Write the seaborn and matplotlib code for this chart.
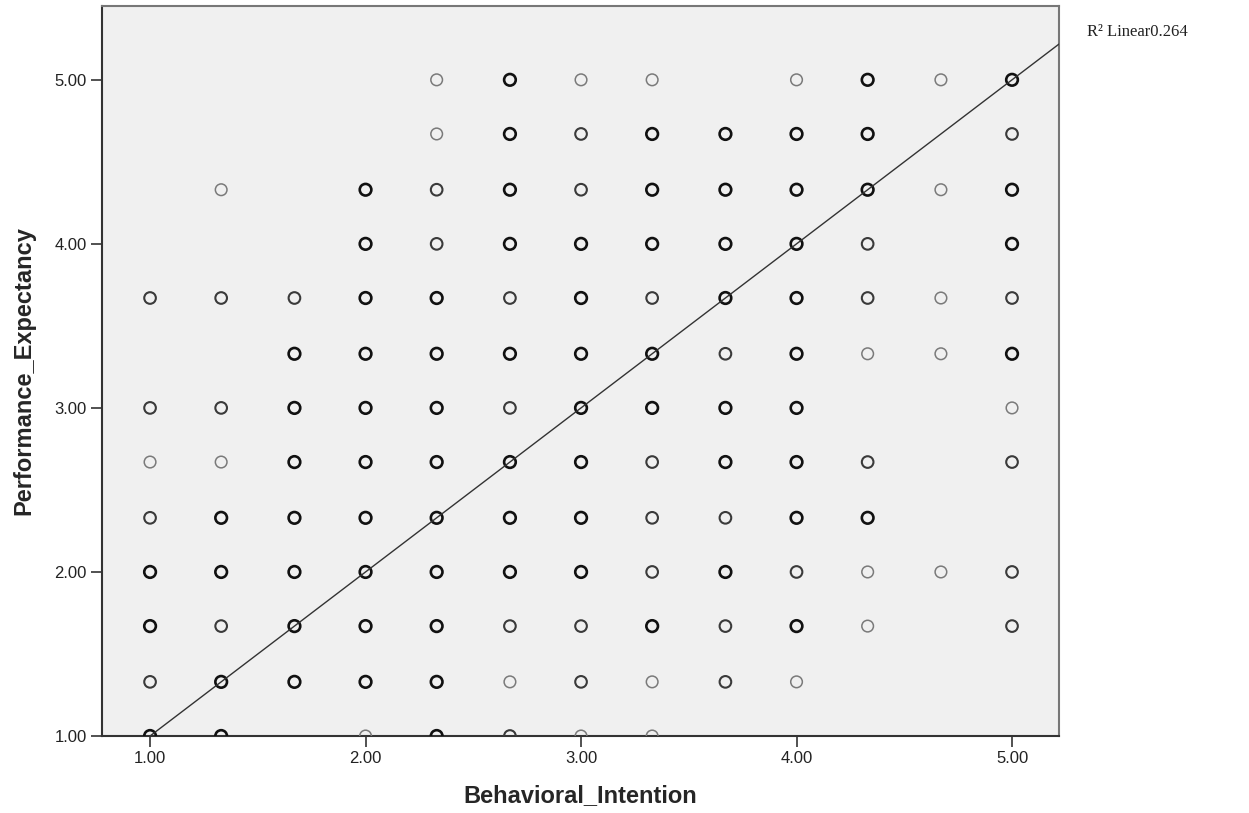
import numpy as np
import pandas as pd
import matplotlib
matplotlib.use("Agg")
import matplotlib.pyplot as plt
import seaborn as sns

# ---- data ----
# each entry: one plotted location; "overlap" = how many coinciding cases (1 light, 2 medium, 3+ dark)
bi = [2.33, 2.67, 3.00, 3.33, 4.00, 4.33, 4.67, 5.00,
      2.33, 2.67, 3.00, 3.33, 3.67, 4.00, 4.33, 5.00,
      1.33, 2.00, 2.33, 2.67, 3.00, 3.33, 3.67, 4.00, 4.33, 4.67, 5.00,
      2.00, 2.33, 2.67, 3.00, 3.33, 3.67, 4.00, 4.33, 5.00,
      1.00, 1.33, 1.67, 2.00, 2.33, 2.67, 3.00, 3.33, 3.67, 4.00, 4.33, 4.67, 5.00,
      1.67, 2.00, 2.33, 2.67, 3.00, 3.33, 3.67, 4.00, 4.33, 4.67, 5.00,
      1.00, 1.33, 1.67, 2.00, 2.33, 2.67, 3.00, 3.33, 3.67, 4.00, 5.00,
      1.00, 1.33, 1.67, 2.00, 2.33, 2.67, 3.00, 3.33, 3.67, 4.00, 4.33, 5.00,
      1.00, 1.33, 1.67, 2.00, 2.33, 2.67, 3.00, 3.33, 3.67, 4.00, 4.33,
      1.00, 1.33, 1.67, 2.00, 2.33, 2.67, 3.00, 3.33, 3.67, 4.00, 4.33, 4.67, 5.00,
      1.00, 1.33, 1.67, 2.00, 2.33, 2.67, 3.00, 3.33, 3.67, 4.00, 4.33, 5.00,
      1.00, 1.33, 1.67, 2.00, 2.33, 2.67, 3.00, 3.33, 3.67, 4.00,
      1.00, 1.33, 2.00, 2.33, 2.67, 3.00, 3.33]
pe = ([5.00] * 8 + [4.67] * 8 + [4.33] * 11 + [4.00] * 9 + [3.67] * 13 +
      [3.33] * 11 + [3.00] * 11 + [2.67] * 12 + [2.33] * 11 + [2.00] * 13 +
      [1.67] * 12 + [1.33] * 10 + [1.00] * 7)
overlap = [1, 3, 1, 1, 1, 3, 1, 3,
           1, 3, 2, 3, 3, 3, 3, 2,
           1, 3, 2, 3, 2, 3, 3, 3, 3, 1, 3,
           3, 2, 3, 3, 3, 3, 3, 2, 3,
           2, 2, 2, 3, 3, 2, 3, 2, 3, 3, 2, 1, 2,
           3, 3, 3, 3, 3, 3, 2, 3, 1, 1, 3,
           2, 2, 3, 3, 3, 2, 3, 3, 3, 3, 1,
           1, 1, 3, 3, 3, 3, 3, 2, 3, 3, 2, 2,
           2, 3, 3, 3, 3, 3, 3, 2, 2, 3, 3,
           3, 3, 3, 3, 3, 3, 3, 2, 3, 2, 1, 1, 2,
           3, 2, 3, 3, 3, 2, 2, 3, 2, 3, 1, 2,
           2, 3, 3, 3, 3, 1, 2, 1, 2, 1,
           3, 3, 1, 3, 2, 1, 1]

fit_intercept = 0.0
fit_slope = 1.0
r2_text = "R\u00b2 Linear0.264"
x_ticks = [1.0, 2.0, 3.0, 4.0, 5.0]
y_ticks = [1.0, 2.0, 3.0, 4.0, 5.0]

df = pd.DataFrame({"Behavioral_Intention": bi, "Performance_Expectancy": pe, "overlap": overlap})

# ---- figure ----
sns.set_style("white")
plt.rcParams["font.family"] = ["Liberation Sans", "DejaVu Sans"]

fig = plt.figure(figsize=(12.49, 8.13), dpi=100)
ax = fig.add_axes([102 / 1249, 77 / 813, 957 / 1249, 730 / 813])
ax.set_facecolor("#f0f0f0")

styles = {1: ("#7a7a7a", 1.1), 2: ("#3a3a3a", 1.5), 3: ("#111111", 1.9)}
for lvl, (col, lw) in styles.items():
    sub = df[df["overlap"] == lvl]
    sns.scatterplot(data=sub, x="Behavioral_Intention", y="Performance_Expectancy",
                    marker="o", s=70, facecolor="none", edgecolor=col,
                    linewidth=lw, ax=ax, legend=False, zorder=3)

xlim = (0.777, 5.218)
ylim = (1.0, 5.45)
xs = np.array(xlim)
sns.lineplot(x=xs, y=fit_intercept + fit_slope * xs, color="#333333", linewidth=1.0,
             ax=ax, zorder=4)

ax.set_xlim(*xlim)
ax.set_ylim(*ylim)
ax.set_xticks(x_ticks)
ax.set_yticks(y_ticks)
ax.set_xticklabels([f"{v:.2f}" for v in x_ticks])
ax.set_yticklabels([f"{v:.2f}" for v in y_ticks])
ax.tick_params(axis="both", direction="out", length=8, width=1.2, color="#333333",
               labelsize=12, labelcolor="#222222", pad=3)
ax.tick_params(axis="x", bottom=True)
ax.tick_params(axis="y", left=True)

for side in ["left", "bottom"]:
    ax.spines[side].set_color("#333333")
    ax.spines[side].set_linewidth(1.5)
for side in ["top", "right"]:
    ax.spines[side].set_color("#777777")
    ax.spines[side].set_linewidth(1.5)

ax.set_xlabel("Behavioral_Intention", fontsize=17, fontweight="bold", labelpad=13)
ax.set_ylabel("Performance_Expectancy", fontsize=17, fontweight="bold", labelpad=14)

fig.text(1087 / 1249, 1 - 36 / 813, r2_text, fontsize=12,
         family=["Liberation Serif", "DejaVu Serif"], ha="left", va="baseline", color="#222222")

fig.savefig("out.png", dpi=100)
